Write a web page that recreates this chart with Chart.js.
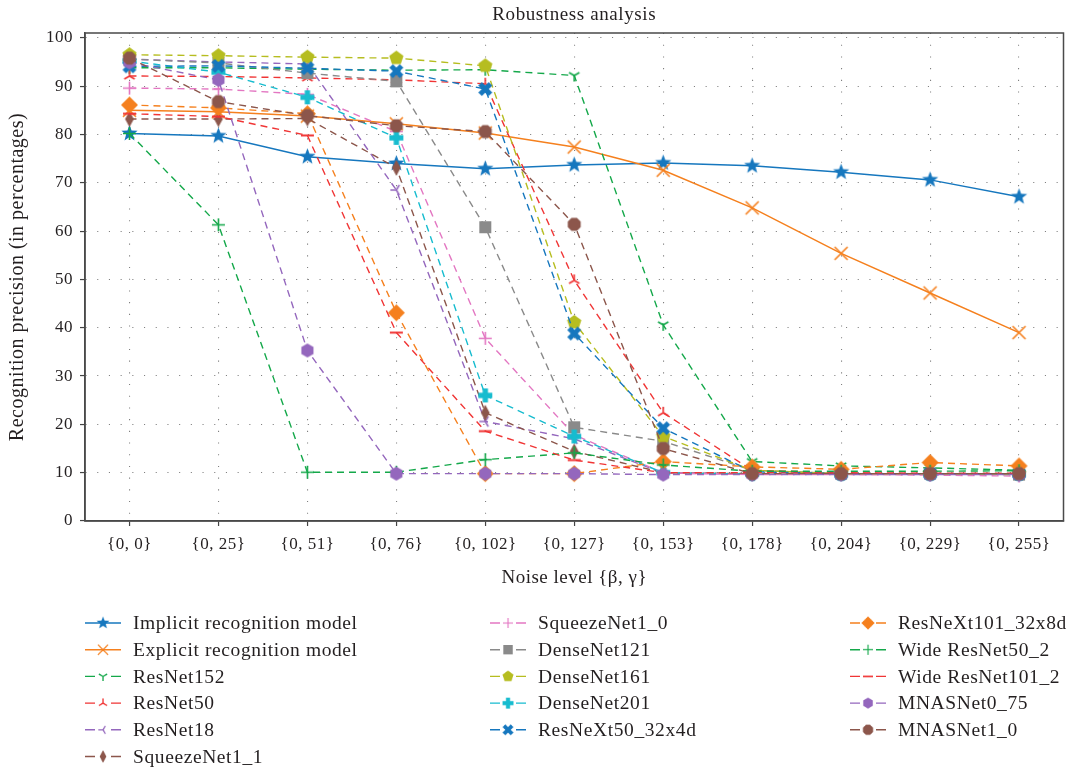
<!DOCTYPE html>
<html><head><meta charset="utf-8">
<script src="https://cdn.jsdelivr.net/npm/chart.js@4.4.0/dist/chart.umd.min.js"></script>
<style>html,body{margin:0;padding:0;background:#fff;}#wrap{width:1071px;height:771px;}</style>
</head><body><div id="wrap"><canvas id="c" width="1071" height="771"></canvas></div>
<script>
const categories = ['{0, 0}', '{0, 25}', '{0, 51}', '{0, 76}', '{0, 102}', '{0, 127}', '{0, 153}', '{0, 178}', '{0, 204}', '{0, 229}', '{0, 255}'];
const yTicks = [0, 10, 20, 30, 40, 50, 60, 70, 80, 90, 100];

const implicitModel = [80.2, 79.7, 75.4, 74.0, 72.9, 73.7, 74.1, 73.5, 72.2, 70.6, 67.1];
const explicitModel = [85.0, 84.7, 83.8, 82.2, 80.3, 77.4, 72.6, 64.8, 55.4, 47.2, 39.0];
const resnet152 = [93.8, 93.8, 93.5, 93.3, 93.4, 92.2, 40.6, 12.3, 11.4, 11.0, 10.5];
const resnet50 = [92.1, 92.0, 91.7, 91.3, 90.5, 49.8, 22.4, 10.5, 10.0, 9.8, 9.8];
const resnet18 = [95.6, 95.0, 94.6, 68.5, 20.6, 17.0, 9.9, 9.7, 9.7, 9.7, 9.7];
const squeezenet1_1 = [83.2, 83.2, 83.3, 73.1, 22.4, 14.4, 10.0, 9.8, 9.8, 9.8, 9.8];
const squeezenet1_0 = [89.6, 89.4, 88.3, 80.6, 37.8, 17.8, 10.0, 9.6, 9.6, 9.5, 9.3];
const densenet121 = [95.6, 94.8, 92.7, 91.0, 60.8, 19.4, 16.5, 10.5, 9.8, 9.8, 9.6];
const densenet161 = [96.5, 96.3, 96.0, 95.8, 94.2, 41.1, 17.5, 10.5, 9.8, 9.8, 9.8];
const densenet201 = [95.2, 92.9, 87.7, 79.3, 26.0, 17.5, 10.0, 9.7, 9.7, 9.7, 9.7];
const resnext50 = [94.1, 94.2, 93.7, 93.1, 89.4, 38.8, 19.2, 10.2, 9.8, 9.8, 9.8];
const resnext101 = [86.1, 85.5, 84.3, 43.1, 9.8, 9.8, 12.3, 11.2, 10.7, 12.1, 11.4];
const wideResnet50 = [80.2, 61.3, 10.1, 10.1, 12.7, 14.1, 11.6, 10.3, 10.3, 10.3, 10.4];
const wideResnet101 = [84.3, 83.7, 79.8, 39.0, 18.6, 12.6, 10.0, 10.0, 9.9, 9.9, 9.9];
const mnasnet0_75 = [94.9, 91.3, 35.3, 9.8, 9.8, 9.8, 9.6, 9.6, 9.6, 9.6, 9.6];
const mnasnet1_0 = [95.8, 86.8, 83.9, 81.8, 80.6, 61.4, 15.0, 9.8, 9.8, 9.8, 9.8];

const seriesNames = ['Implicit recognition model', 'Explicit recognition model', 'ResNet152', 'ResNet50', 'ResNet18', 'SqueezeNet1_1', 'SqueezeNet1_0', 'DenseNet121', 'DenseNet161', 'DenseNet201', 'ResNeXt50_32x4d', 'ResNeXt101_32x8d', 'Wide ResNet50_2', 'Wide ResNet101_2', 'MNASNet0_75', 'MNASNet1_0'];
const seriesValues = [implicitModel, explicitModel, resnet152, resnet50, resnet18, squeezenet1_1, squeezenet1_0, densenet121, densenet161, densenet201, resnext50, resnext101, wideResnet50, wideResnet101, mnasnet0_75, mnasnet1_0];

const C = {blue:'#1677be', orange:'#f5801e', green:'#14a84a', red:'#f03535', purple:'#9467bd', brown:'#8c564b', pink:'#e377c2', gray:'#8a8a8a', olive:'#b6bd20', cyan:'#17bccf'};
const styles = [
  {c:C.blue, m:'star', r:8.5, solid:true},
  {c:C.orange, m:'x', r:6.5, solid:true},
  {c:C.green, m:'triDown', r:6},
  {c:C.red, m:'triUp', r:6},
  {c:C.purple, m:'triLeft', r:6},
  {c:C.brown, m:'thinDiamond', r:8},
  {c:C.pink, m:'plus', r:6.5},
  {c:C.gray, m:'square', r:6},
  {c:C.olive, m:'pentagon', r:7.5},
  {c:C.cyan, m:'plusFilled', r:7},
  {c:C.blue, m:'xFilled', r:7},
  {c:C.orange, m:'diamond', r:8.5},
  {c:C.green, m:'plus', r:6.5},
  {c:C.red, m:'hline', r:6.5},
  {c:C.purple, m:'hexagon', r:7},
  {c:C.brown, m:'octagon', r:7}
];

function marker(type, color, r) {
  const s = Math.ceil(r * 2 + 4);
  const cv = document.createElement('canvas'); cv.width = s; cv.height = s;
  const g = cv.getContext('2d'); const cx = s / 2, cy = s / 2;
  g.fillStyle = color; g.strokeStyle = color; g.lineWidth = 1.6; g.lineCap = 'butt';
  const poly = (pts) => { g.beginPath(); pts.forEach(p => g.lineTo(cx + p[0], cy + p[1])); g.closePath(); g.fill(); };
  const reg = (n, rot, rr) => { const p = []; for (let k = 0; k < n; k++) { const a = rot + k * 2 * Math.PI / n; p.push([rr * Math.cos(a), rr * Math.sin(a)]); } poly(p); };
  const rays = (angles) => { g.beginPath(); angles.forEach(a => { const t = a * Math.PI / 180; g.moveTo(cx, cy); g.lineTo(cx + r * Math.cos(t), cy + r * Math.sin(t)); }); g.stroke(); };
  switch (type) {
    case 'star': { const p = []; for (let k = 0; k < 10; k++) { const a = -Math.PI / 2 + k * Math.PI / 5; const rr = k % 2 ? r * 0.42 : r; p.push([rr * Math.cos(a), rr * Math.sin(a)]); } poly(p); break; }
    case 'x': g.beginPath(); g.moveTo(cx - r, cy - r); g.lineTo(cx + r, cy + r); g.moveTo(cx + r, cy - r); g.lineTo(cx - r, cy + r); g.stroke(); break;
    case 'triDown': rays([90, 210, 330]); break;
    case 'triUp': rays([270, 30, 150]); break;
    case 'triLeft': rays([180, 300, 60]); break;
    case 'thinDiamond': poly([[0, -r], [r * 0.55, 0], [0, r], [-r * 0.55, 0]]); break;
    case 'plus': g.beginPath(); g.moveTo(cx - r, cy); g.lineTo(cx + r, cy); g.moveTo(cx, cy - r); g.lineTo(cx, cy + r); g.stroke(); break;
    case 'square': g.fillRect(cx - r, cy - r, 2 * r, 2 * r); break;
    case 'pentagon': reg(5, -Math.PI / 2, r); break;
    case 'plusFilled': { const w = r * 0.38; g.fillRect(cx - r, cy - w, 2 * r, 2 * w); g.fillRect(cx - w, cy - r, 2 * w, 2 * r); break; }
    case 'xFilled': { g.save(); g.translate(cx, cy); g.rotate(Math.PI / 4); const w = r * 0.36, L = r * 1.05; g.fillRect(-L, -w, 2 * L, 2 * w); g.fillRect(-w, -L, 2 * w, 2 * L); g.restore(); break; }
    case 'diamond': reg(4, -Math.PI / 2, r); break;
    case 'hline': g.lineWidth = 2; g.beginPath(); g.moveTo(cx - r, cy); g.lineTo(cx + r, cy); g.stroke(); break;
    case 'hexagon': reg(6, -Math.PI / 2, r); break;
    case 'octagon': reg(8, Math.PI / 8, r); break;
  }
  return cv;
}

const N = seriesNames.length;
const datasets = seriesNames.map((name, i) => {
  const st = styles[i];
  const img = marker(st.m, st.c, st.r);
  return {
    label: name,
    data: seriesValues[i],
    borderColor: st.c,
    backgroundColor: st.c,
    borderWidth: st.solid ? 1.5 : 1.4,
    borderDash: st.solid ? [] : [7, 5],
    pointStyle: img,
    pointRadius: 6,
    pointHoverRadius: 6,
    tension: 0,
    fill: false,
    order: N - 1 - i,
    _img: img,
    _solid: !!st.solid
  };
});

const spacing = {
  id: 'spacing',
  beforeDraw(chart) { chart.ctx.letterSpacing = '0.5px'; }
};

const frameLegend = {
  id: 'frameLegend',
  afterDraw(chart) {
    const ctx = chart.ctx; const a = chart.chartArea;
    ctx.save();
    ctx.strokeStyle = '#4a4a4a'; ctx.lineWidth = 1.5;
    ctx.strokeRect(a.left, a.top, a.right - a.left, a.bottom - a.top);
    ctx.fillStyle = '#231f20';
    ctx.letterSpacing = '0.6px';
    ctx.font = '19px "Liberation Serif"';
    ctx.textAlign = 'center'; ctx.textBaseline = 'middle';
    ctx.fillText('Robustness analysis', (a.left + a.right) / 2, 15);
    const colX = [85, 490, 850];
    const colStart = [0, 6, 11];
    const rowY0 = 623, rowH = 26.7;
    ctx.font = '19.5px "Liberation Serif"';
    ctx.textAlign = 'left';
    chart.data.datasets.forEach((ds, i) => {
      const col = i >= 11 ? 2 : (i >= 6 ? 1 : 0);
      const row = i - colStart[col];
      const x0 = colX[col], y = rowY0 + row * rowH;
      ctx.strokeStyle = ds.borderColor; ctx.lineWidth = ds.borderWidth;
      ctx.setLineDash([]);
      ctx.beginPath();
      if (ds._solid) { ctx.moveTo(x0, y); ctx.lineTo(x0 + 36, y); }
      else { ctx.moveTo(x0, y); ctx.lineTo(x0 + 10, y); ctx.moveTo(x0 + 26, y); ctx.lineTo(x0 + 36, y); }
      ctx.stroke();
      const im = ds._img; const sc = 0.78;
      ctx.drawImage(im, x0 + 18 - im.width * sc / 2, y - im.height * sc / 2, im.width * sc, im.height * sc);
      ctx.fillStyle = '#231f20';
      ctx.fillText(ds.label, x0 + 48, y + 1);
    });
    ctx.restore();
  }
};

new Chart(document.getElementById('c'), {
  type: 'line',
  data: { labels: categories, datasets },
  options: {
    responsive: false,
    animation: false,
    devicePixelRatio: 1,
    layout: { padding: { top: 33, right: 5, bottom: 180, left: 0 } },
    plugins: { legend: { display: false }, title: { display: false }, tooltip: { enabled: false } },
    scales: {
      x: {
        offset: true,
        grid: { display: true, color: '#808080', lineWidth: 1.1, drawTicks: true, tickLength: 5, tickColor: '#444', tickWidth: 1.2 },
        border: { display: true, color: '#4a4a4a', width: 1.5, dash: [1.1, 10.6] },
        ticks: { color: '#231f20', font: { family: 'Liberation Serif', size: 17 }, padding: 8, maxRotation: 0, autoSkip: false },
        title: { display: true, text: 'Noise level {β, γ}', color: '#231f20', font: { family: 'Liberation Serif', size: 19 }, padding: { top: 0, bottom: 2 } },
        afterFit(s) { s.height = 70; }
      },
      y: {
        min: 0, max: 101,
        grid: { display: true, color: '#808080', lineWidth: 1.1, drawTicks: true, tickLength: 5, tickColor: '#444', tickWidth: 1.2 },
        border: { display: true, color: '#4a4a4a', width: 1.5, dash: [1.1, 10.6] },
        afterBuildTicks(s) { s.ticks = yTicks.map(v => ({ value: v })); },
        ticks: { color: '#231f20', font: { family: 'Liberation Serif', size: 17 }, padding: 7, includeBounds: false, stepSize: 10 },
        title: { display: true, text: 'Recognition precision (in percentages)', color: '#231f20', font: { family: 'Liberation Serif', size: 20 }, padding: { top: 6, bottom: 0 } },
        afterFit(s) { s.width = 85; }
      }
    }
  },
  plugins: [spacing, frameLegend]
});
</script></body></html>
